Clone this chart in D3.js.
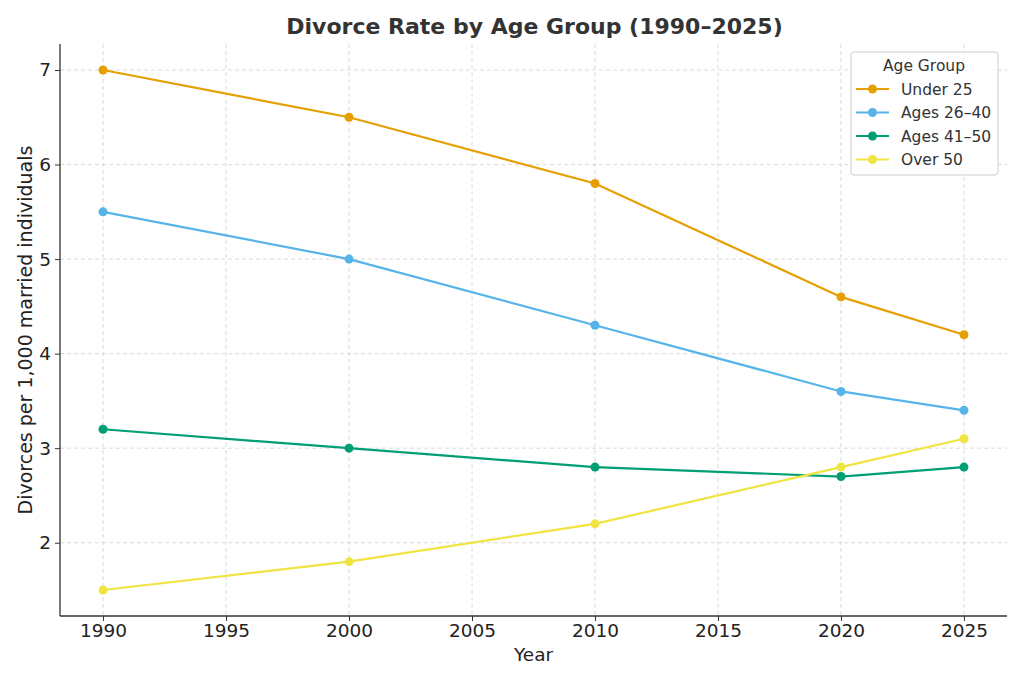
<!DOCTYPE html>
<html><head><meta charset="utf-8">
<script src="https://cdn.jsdelivr.net/npm/d3@7"></script>
<style>body{margin:0;background:#fff}svg{display:block;font-family:"DejaVu Sans",sans-serif}</style>
</head><body><svg id="c" width="1024" height="683"></svg>
<script>
const years = [1990, 2000, 2010, 2020, 2025];
const seriesNames = ["Under 25", "Ages 26–40", "Ages 41–50", "Over 50"];
const under25 = [7.0, 6.5, 5.8, 4.6, 4.2];
const ages26to40 = [5.5, 5.0, 4.3, 3.6, 3.4];
const ages41to50 = [3.2, 3.0, 2.8, 2.7, 2.8];
const over50 = [1.5, 1.8, 2.2, 2.8, 3.1];
const colors = ["#E69F00", "#56B4E9", "#009E73", "#F0E442"];
const xTicks = [1990, 1995, 2000, 2005, 2010, 2015, 2020, 2025];
const yTicks = [2, 3, 4, 5, 6, 7];

const seriesValues = [under25, ages26to40, ages41to50, over50];
const svg = d3.select("#c");
const L = 60, R = 1007, T = 44, B = 616;
const x = d3.scaleLinear().domain([1988.25, 2026.75]).range([L, R]);
const y = d3.scaleLinear().domain([1.225, 7.275]).range([B, T]);

// grid
const g = svg.append("g");
g.selectAll(".gx").data(xTicks).join("line")
  .attr("x1", d => x(d)).attr("x2", d => x(d)).attr("y1", T).attr("y2", B)
  .attr("stroke", "#d0d0d0").attr("stroke-width", 0.8).attr("stroke-dasharray", "4,3");
g.selectAll(".gy").data(yTicks).join("line")
  .attr("x1", L).attr("x2", R).attr("y1", d => y(d)).attr("y2", d => y(d))
  .attr("stroke", "#d0d0d0").attr("stroke-width", 0.8).attr("stroke-dasharray", "4,3");

// axes
const xAxis = svg.append("g").attr("transform", `translate(0,${B})`)
  .call(d3.axisBottom(x).tickValues(xTicks).tickFormat(d3.format("d")).tickSize(5).tickPadding(3));
const yAxis = svg.append("g").attr("transform", `translate(${L},0)`)
  .call(d3.axisLeft(y).tickValues(yTicks).tickFormat(d3.format("d")).tickSize(5).tickPadding(4));
[xAxis, yAxis].forEach(a => {
  a.attr("font-size", null).attr("font-family", null);
  a.select(".domain").attr("stroke", "#333").attr("stroke-width", 1.3);
  a.selectAll(".tick line").attr("stroke", "#333").attr("stroke-width", 1);
  a.selectAll(".tick text").attr("fill", "#222")
    .attr("font-size", "18.5px").attr("font-family", "DejaVu Sans, sans-serif");
});
xAxis.select(".domain").attr("d", `M${L},0H${R}`);
yAxis.select(".domain").attr("d", `M0,${T}V${B}`);

// lines
const line = d3.line().x((d, i) => x(years[i])).y(d => y(d));
seriesValues.forEach((vals, k) => {
  svg.append("path").datum(vals).attr("d", line).attr("fill", "none")
    .attr("stroke", colors[k]).attr("stroke-width", 2.2);
  svg.selectAll(null).data(vals).join("circle")
    .attr("cx", (d, i) => x(years[i])).attr("cy", d => y(d)).attr("r", 4.5)
    .attr("fill", colors[k]);
});

// title and labels
svg.append("text").attr("x", (L + R) / 2 + 1).attr("y", 34).attr("text-anchor", "middle")
  .attr("font-size", "22px").attr("font-weight", "bold").attr("fill", "#333")
  .text("Divorce Rate by Age Group (1990–2025)");
svg.append("text").attr("x", (L + R) / 2).attr("y", 661).attr("text-anchor", "middle")
  .attr("font-size", "18.5px").attr("fill", "#222").text("Year");
svg.append("text").attr("transform", `translate(32,${(T + B) / 2}) rotate(-90)`).attr("text-anchor", "middle")
  .attr("font-size", "19px").attr("fill", "#222").text("Divorces per 1,000 married individuals");

// legend
const lg = svg.append("g").attr("transform", "translate(851,52)");
lg.append("rect").attr("width", 147).attr("height", 123).attr("rx", 3)
  .attr("fill", "#fff").attr("fill-opacity", 0.85).attr("stroke", "#ccc");
lg.append("text").attr("x", 73).attr("y", 19).attr("text-anchor", "middle")
  .attr("font-size", "15.5px").attr("fill", "#333").text("Age Group");
seriesNames.forEach((n, k) => {
  const yy = 37 + k * 23.5;
  lg.append("line").attr("x1", 5).attr("x2", 38).attr("y1", yy).attr("y2", yy)
    .attr("stroke", colors[k]).attr("stroke-width", 2.2);
  lg.append("circle").attr("cx", 21.5).attr("cy", yy).attr("r", 4.5).attr("fill", colors[k]);
  lg.append("text").attr("x", 50).attr("y", yy + 5.5).attr("font-size", "15.5px").attr("fill", "#333").text(n);
});
</script></body></html>
